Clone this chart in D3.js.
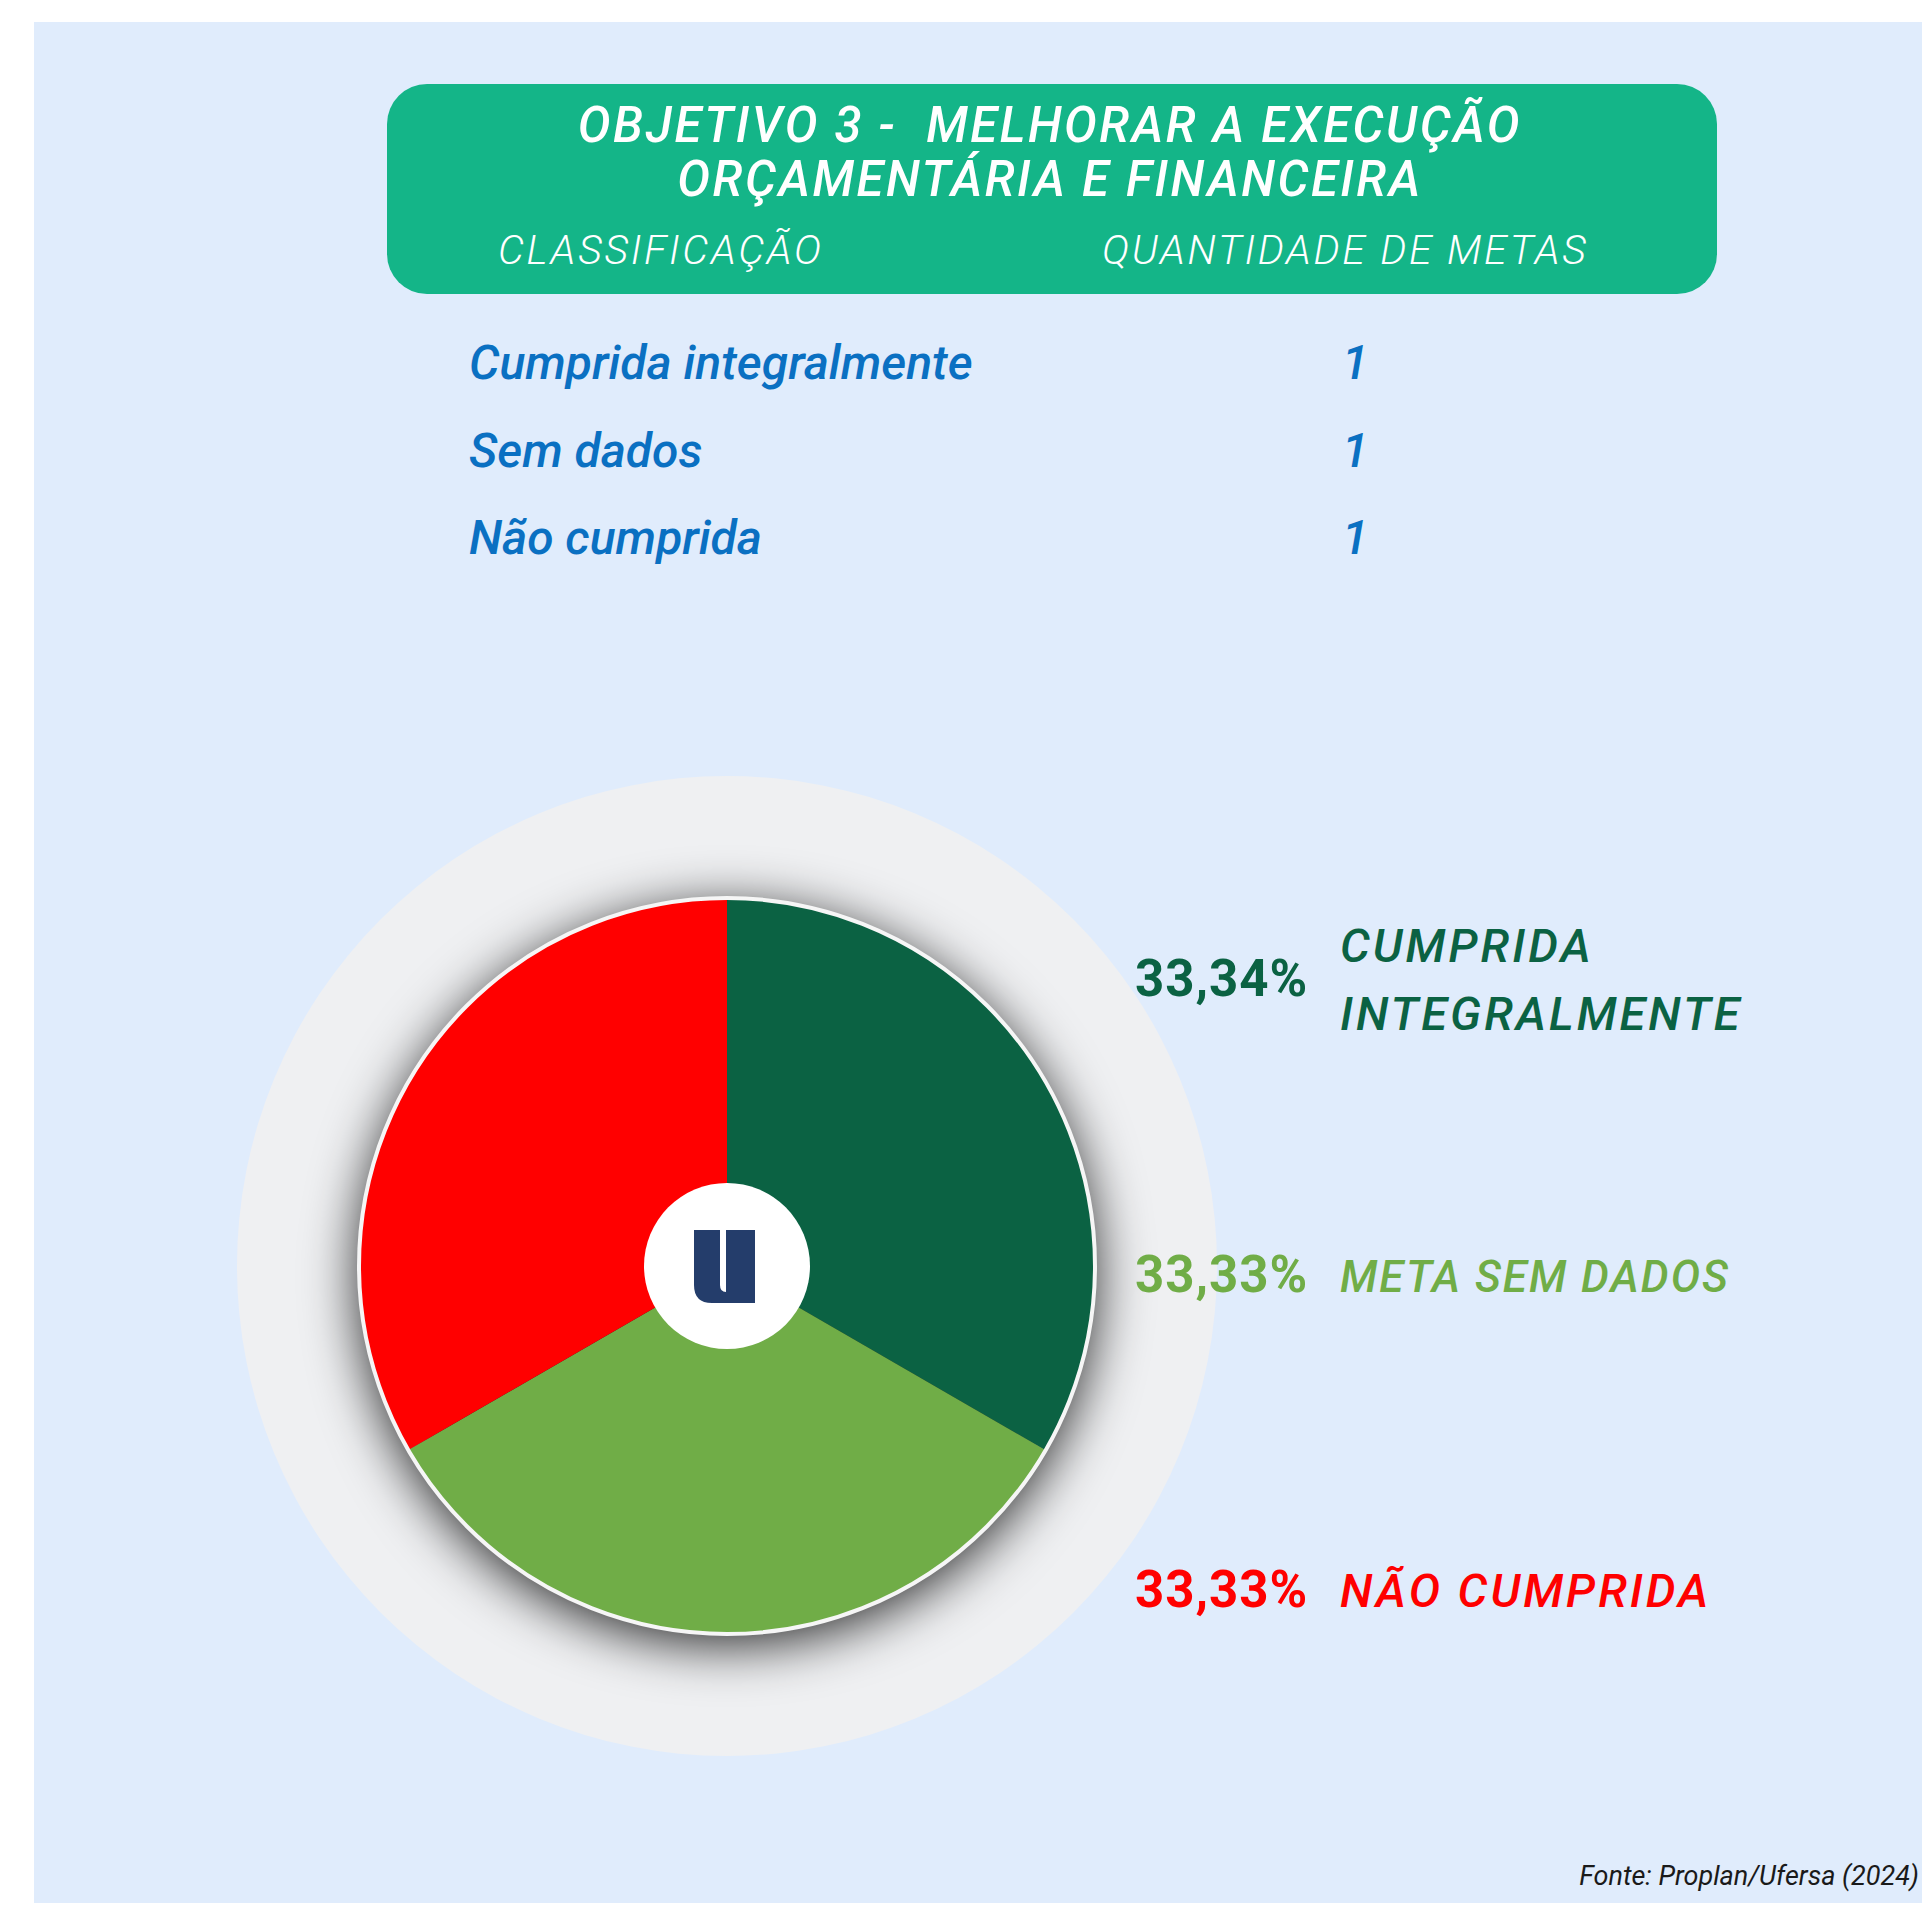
<!DOCTYPE html>
<html>
<head>
<meta charset="utf-8">
<script src="https://cdn.jsdelivr.net/npm/d3@7"></script>
<style>
  body { margin: 0; background: #fff; }
  svg { display: block; }
  text { font-family: Roboto, "Noto Sans", sans-serif; }
</style>
</head>
<body>
<svg id="chart" width="1922" height="1905"></svg>
<script>
// data
const titleLines = ['OBJETIVO 3 -  MELHORAR A EXECUÇÃO', 'ORÇAMENTÁRIA E FINANCEIRA'];
const headers = ['CLASSIFICAÇÃO', 'QUANTIDADE DE METAS'];
const categories = ['Cumprida integralmente', 'Sem dados', 'Não cumprida'];
const counts = [1, 1, 1];
const shares = [33.34, 33.33, 33.33];
const legendLabels = [['CUMPRIDA', 'INTEGRALMENTE'], ['META SEM DADOS'], ['NÃO CUMPRIDA']];
const colors = ['#0B6243', '#70AD47', '#FF0000'];
const source = 'Fonte: Proplan/Ufersa (2024)';

const svg = d3.select('#chart');
const W = 1922, H = 1905;

// light blue panel
svg.append('rect')
  .attr('x', 34).attr('y', 22)
  .attr('width', W - 34).attr('height', H - 24)
  .attr('fill', '#E0ECFC');

// header box
const box = { x: 387, y: 84, w: 1330, h: 210 };
svg.append('rect')
  .attr('x', box.x).attr('y', box.y)
  .attr('width', box.w).attr('height', box.h)
  .attr('rx', 40)
  .attr('fill', '#14B588');

svg.append('g').selectAll('text')
  .data(titleLines)
  .join('text')
    .attr('x', 1050)
    .attr('y', (d, i) => 142 + i * 54)
    .attr('text-anchor', 'middle')
    .attr('fill', '#fff')
    .attr('font-size', 49)
    .attr('font-weight', 500)
    .attr('font-style', 'italic')
    .attr('letter-spacing', 2.5)
    .style('white-space', 'pre')
    .text(d => d);

const headerX = [498, 1102];
svg.append('g').selectAll('text')
  .data(headers)
  .join('text')
    .attr('x', (d, i) => headerX[i])
    .attr('y', 264)
    .attr('fill', '#fff')
    .attr('font-size', 41)
    .attr('font-weight', 300)
    .attr('font-style', 'italic')
    .attr('letter-spacing', 2.7)
    .text(d => d);

// table rows
const rowY = d3.scalePoint().domain(categories).range([379, 554]);
const rows = svg.append('g').selectAll('g')
  .data(categories)
  .join('g')
    .attr('transform', d => `translate(0,${rowY(d)})`)
    .attr('fill', '#0A70C2')
    .attr('font-size', 48)
    .attr('font-weight', 500)
    .attr('font-style', 'italic');
rows.append('text').attr('x', 469).text(d => d);
rows.append('text').attr('x', 1342).text((d, i) => counts[i]);

// pie
const cx = 727, cy = 1266, r = 368, ringR = 490;
const g = svg.append('g').attr('transform', `translate(${cx},${cy})`);
const defs = svg.append('defs');

defs.append('clipPath').attr('id', 'ringClip')
  .append('circle').attr('r', ringR);

const blur = defs.append('filter').attr('id', 'shadow')
  .attr('x', '-50%').attr('y', '-50%').attr('width', '200%').attr('height', '200%');
blur.append('feGaussianBlur').attr('stdDeviation', 27);

g.append('circle').attr('r', ringR).attr('fill', '#EFF0F2');

g.append('g').attr('clip-path', 'url(#ringClip)')
  .append('circle')
    .attr('cy', 10)
    .attr('r', r)
    .attr('fill', '#000')
    .attr('fill-opacity', 0.85)
    .attr('filter', 'url(#shadow)');

const pie = d3.pie().sort(null).value(d => d);
const arc = d3.arc().innerRadius(0).outerRadius(r);

g.append('g').selectAll('path')
  .data(pie(shares))
  .join('path')
    .attr('d', arc)
    .attr('fill', (d, i) => colors[i]);

g.append('circle')
  .attr('r', r)
  .attr('fill', 'none')
  .attr('stroke', '#F6F6F6')
  .attr('stroke-width', 4);

// centre logo
g.append('circle').attr('r', 83).attr('fill', '#fff');
g.append('path')
  .attr('d', 'M-33,-36 H-7 V19 Q-7,26 -1,26 V-36 H28 V37 H-15 Q-33,37 -33,19 Z')
  .attr('fill', '#243D6B');

// legend
const legendY = d3.scaleOrdinal().domain(categories).range([996, 1292, 1607]);
const labelSize = d3.scaleOrdinal().domain(categories).range([47, 44, 47]);
const labelSpacing = d3.scaleOrdinal().domain(categories).range([3, 2, 3]);
const legend = svg.append('g').selectAll('g')
  .data(categories)
  .join('g')
    .attr('transform', d => `translate(0,${legendY(d)})`)
    .attr('fill', (d, i) => colors[i]);

legend.append('text')
  .attr('x', 1135)
  .attr('font-size', 51)
  .attr('font-weight', 700)
  .attr('letter-spacing', 1)
  .text((d, i) => shares[i].toFixed(2).replace('.', ',') + '%');

legend.append('text')
  .attr('x', 1340)
  .attr('font-size', d => labelSize(d))
  .attr('font-weight', 500)
  .attr('font-style', 'italic')
  .attr('letter-spacing', d => labelSpacing(d))
  .selectAll('tspan')
  .data((d, i) => legendLabels[i].map((t, j, a) => ({ t, dy: j === 0 ? -(a.length - 1) * 34 : 68 })))
  .join('tspan')
    .attr('x', 1340)
    .attr('dy', d => d.dy)
    .text(d => d.t);

// source note, kept inside the page's right edge
svg.append('text')
  .attr('x', W - 3)
  .attr('y', 1885)
  .attr('text-anchor', 'end')
  .attr('fill', '#1A1A1A')
  .attr('font-size', 27)
  .attr('font-style', 'italic')
  .text(source);
</script>
</body>
</html>
